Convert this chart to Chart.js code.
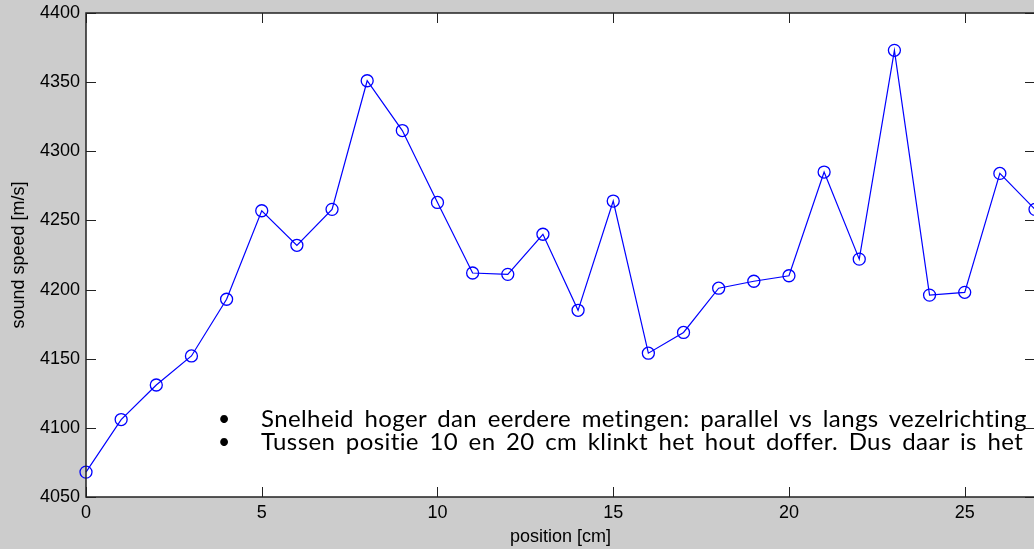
<!DOCTYPE html>
<html>
<head>
<meta charset="utf-8">
<script src="https://cdn.jsdelivr.net/npm/chart.js@4"></script>
<style>
  html, body { margin: 0; padding: 0; background: #cccccc; overflow: hidden; }
  #wrap { position: relative; width: 1034px; height: 549px; overflow: hidden; }
  #chart { position: absolute; left: 0; top: 0; }
  #notes { position: absolute; left: 222px; top: 406px; width: 1200px; font-family: Lato, "Open Sans", sans-serif; font-size: 24px; letter-spacing: 0.4px; word-spacing: 4px; line-height: 23px; color: #000; white-space: nowrap; }
  #notes div { position: relative; padding-left: 39px; }
  #notes div::before { content: "•"; position: absolute; left: -4px; top: 0; font-size: 21px; }
</style>
</head>
<body>
<div id="wrap">
  <canvas id="chart" width="1036" height="549"></canvas>
  <div id="notes">
    <div>Snelheid hoger dan eerdere metingen: parallel vs langs vezelrichting</div>
    <div>Tussen positie 10 en 20 cm klinkt het hout doffer. Dus daar is het mi</div>
  </div>
</div>
<script>
const positions = [0, 1, 2, 3, 4, 5, 6, 7, 8, 9, 10, 11, 12, 13, 14, 15, 16, 17, 18, 19, 20, 21, 22, 23, 24, 25, 26, 27];
const speeds = [4068, 4106, 4131, 4152, 4193, 4257, 4232, 4258, 4351, 4315, 4263, 4212, 4211, 4240,
  4185, 4264, 4154, 4169, 4201, 4206, 4210, 4285, 4222, 4373, 4196, 4198, 4284, 4258];
const xTicks = [0, 5, 10, 15, 20, 25];
const yTicks = [4050, 4100, 4150, 4200, 4250, 4300, 4350, 4400];

const points = positions.map((p, i) => ({ x: p, y: speeds[i] }));

// matlab-achtige rand met ticks naar binnen
const boxTicks = {
  id: "boxTicks",
  afterDatasetsDraw(chart) {
    const { ctx, chartArea: a, scales } = chart;
    ctx.save();
    ctx.strokeStyle = "#222";
    ctx.lineWidth = 1;
    ctx.beginPath();
    for (const v of xTicks) {
      const px = Math.round(scales.x.getPixelForValue(v)) + 0.5;
      ctx.moveTo(px, a.bottom); ctx.lineTo(px, a.bottom - 10);
      ctx.moveTo(px, a.top); ctx.lineTo(px, a.top + 10);
    }
    for (const v of yTicks) {
      const py = Math.round(scales.y.getPixelForValue(v)) + 0.5;
      ctx.moveTo(a.left, py); ctx.lineTo(a.left + 10, py);
      ctx.moveTo(a.right, py); ctx.lineTo(a.right - 10, py);
    }
    ctx.stroke();
    ctx.lineWidth = 1.5;
    ctx.strokeRect(a.left, a.top, a.right - a.left, a.bottom - a.top);
    ctx.restore();
  }
};

const whiteArea = {
  id: "whiteArea",
  beforeDraw(chart) {
    const { ctx, chartArea: a } = chart;
    ctx.save();
    ctx.fillStyle = "#ffffff";
    ctx.fillRect(a.left, a.top, a.right - a.left, a.bottom - a.top);
    ctx.restore();
  }
};

const tickFont = { family: "'Liberation Sans', Arial, sans-serif", size: 18 };

new Chart(document.getElementById("chart"), {
  type: "scatter",
  data: {
    datasets: [{
      label: "sound speed",
      data: points,
      showLine: true,
      borderColor: "#0000ff",
      borderWidth: 1.2,
      pointStyle: "circle",
      pointRadius: 6,
      pointBackgroundColor: "rgba(0,0,0,0)",
      pointBorderColor: "#0000ff",
      pointBorderWidth: 1.3,
      clip: false
    }]
  },
  options: {
    responsive: false,
    animation: false,
    layout: { autoPadding: false, padding: { top: 13, right: 1, left: 0, bottom: 0 } },
    plugins: { legend: { display: false }, tooltip: { enabled: false } },
    scales: {
      x: {
        type: "linear",
        min: 0,
        max: 27,
        afterBuildTicks: (s) => { s.ticks = xTicks.map(v => ({ value: v })); },
        afterFit: (s) => { s.height = 52; s.paddingLeft = 0; s.paddingRight = 0; },
        grid: { display: false, drawTicks: false },
        border: { display: false },
        ticks: { color: "#000", font: tickFont, padding: 5, maxRotation: 0, callback: (v) => String(v) },
        title: { display: true, text: "position [cm]", color: "#000", font: tickFont, padding: 1 }
      },
      y: {
        min: 4050,
        max: 4400,
        afterBuildTicks: (s) => { s.ticks = yTicks.map(v => ({ value: v })); },
        afterFit: (s) => { s.width = 86; s.paddingTop = 0; s.paddingBottom = 0; },
        grid: { display: false, drawTicks: false },
        border: { display: false },
        ticks: { color: "#000", font: tickFont, padding: 6, callback: (v) => String(v) },
        title: { display: true, text: "sound speed [m/s]", color: "#000", font: tickFont, padding: 8 }
      }
    }
  },
  plugins: [whiteArea, boxTicks]
});
</script>
</body>
</html>
